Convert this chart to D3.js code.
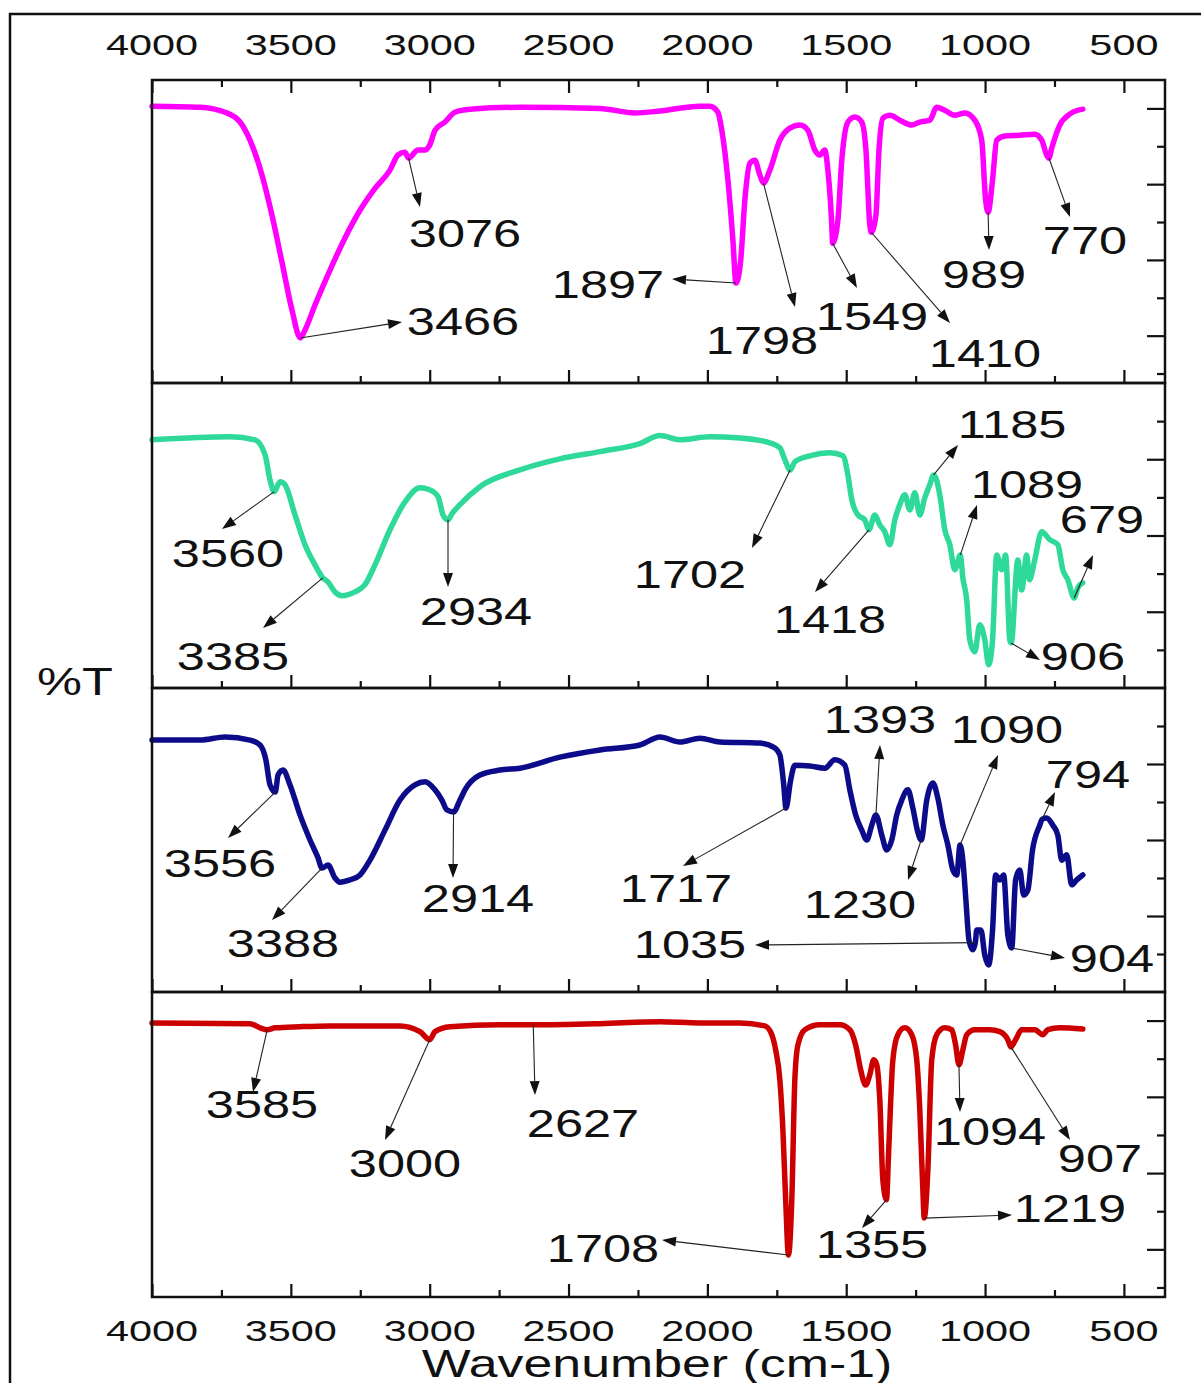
<!DOCTYPE html>
<html>
<head>
<meta charset="utf-8">
<script src="https://cdn.jsdelivr.net/npm/d3@7"></script>
<style>
  body { margin: 0; background: #fff; }
  svg { display: block; }
  text { font-family: "Liberation Sans", Arial, sans-serif; fill: #111; }
</style>
</head>
<body>
<svg id="chart" width="1201" height="1383"></svg>
<script>
// ---- Wavenumber axis ----
const wavenumberTicks = [4000, 3500, 3000, 2500, 2000, 1500, 1000, 500];
const wavenumberMinorTicks = [3750, 3250, 2750, 2250, 1750, 1250, 750];

// ---- FTIR spectra: [wavenumber (cm-1), %T] ----
const spectrumMagenta = [
  [4000,70.6],[3827,70.3],[3737,69.0],[3683,66.4],[3647,61.6],[3604,52.4],[3568,41.8],[3532,29.4],
  [3496,16.8],[3466,9.4],[3449,11.5],[3413,18.1],[3359,27.3],[3305,35.8],[3251,43.1],[3197,48.9],
  [3143,53.7],[3114,57.7],[3089,58.4],[3076,56.9],[3042,59.0],[3017,59.0],[3000,60.3],[2981,64.2],
  [2945,66.4],[2909,69.0],[2855,69.8],[2675,70.3],[2387,70.0],[2261,68.8],[2171,69.3],[2027,70.6],
  [1991,70.6],[1962,69.0],[1948,64.2],[1926,51.1],[1908,35.2],[1897,23.9],[1880,29.9],[1865,45.8],
  [1847,55.5],[1829,56.3],[1811,52.4],[1798,50.3],[1775,53.7],[1739,61.6],[1703,64.8],[1667,65.6],
  [1638,64.2],[1613,59.0],[1595,57.7],[1577,59.0],[1566,53.7],[1552,39.2],[1549,34.4],[1530,40.5],
  [1516,56.3],[1494,66.4],[1469,67.7],[1444,66.4],[1429,59.0],[1415,39.2],[1410,37.3],[1393,41.8],
  [1382,59.0],[1368,67.4],[1343,68.2],[1307,66.9],[1264,65.6],[1235,66.4],[1199,66.9],[1174,70.3],
  [1145,69.5],[1109,68.2],[1073,68.8],[1037,66.9],[1012,61.6],[998,45.8],[989,42.6],[973,51.1],
  [958,61.6],[929,62.7],[875,62.9],[821,63.2],[796,61.6],[778,57.7],[770,56.9],[760,59.5],
  [731,65.6],[695,68.5],[648,69.8]
];
const spectrumGreen = [
  [4000,55.1],[3719,55.9],[3629,55.1],[3593,51.2],[3575,44.6],[3560,41.5],[3539,44.1],[3521,43.3],
  [3485,35.4],[3449,27.6],[3413,22.3],[3385,18.9],[3366,17.8],[3341,15.2],[3316,14.2],[3269,15.2],
  [3233,17.1],[3197,22.3],[3143,31.5],[3089,38.8],[3035,42.5],[3000,42.0],[2970,40.2],[2952,35.4],
  [2934,34.1],[2920,35.7],[2891,38.1],[2819,42.8],[2675,47.2],[2531,50.1],[2387,52.0],[2243,54.1],
  [2171,56.2],[2099,55.1],[1991,55.9],[1883,55.6],[1775,54.3],[1739,53.0],[1721,49.9],[1702,47.2],
  [1685,49.3],[1631,50.9],[1559,51.7],[1512,50.9],[1494,45.9],[1480,39.4],[1458,35.4],[1433,34.1],
  [1418,31.5],[1397,35.4],[1379,32.8],[1361,31.0],[1343,27.6],[1325,34.1],[1307,38.1],[1289,40.7],
  [1271,36.7],[1253,41.2],[1235,35.4],[1217,39.9],[1199,43.3],[1185,45.9],[1163,40.7],[1145,31.5],
  [1127,27.6],[1109,21.0],[1089,24.9],[1080,18.9],[1066,13.1],[1055,2.6],[1037,-0.5],[1019,6.6],
  [1001,2.6],[987,-3.9],[973,2.6],[958,24.9],[940,21.0],[926,24.9],[911,2.6],[906,1.8],
  [882,23.6],[868,15.7],[850,24.9],[840,18.4],[821,23.6],[796,31.0],[767,28.9],[738,27.6],
  [720,21.0],[702,18.4],[679,13.6],[666,16.3],[648,17.6]
];
const spectrumBlue = [
  [4000,56.3],[3827,56.3],[3737,57.1],[3647,56.3],[3611,55.0],[3590,51.1],[3575,44.5],[3556,42.6],
  [3546,47.1],[3528,48.4],[3503,44.5],[3467,36.6],[3431,30.0],[3402,25.3],[3388,22.6],[3366,23.4],
  [3341,20.0],[3323,18.9],[3287,19.5],[3251,20.8],[3215,24.7],[3161,32.6],[3107,40.5],[3053,44.5],
  [3017,45.3],[2981,43.2],[2956,40.5],[2938,37.9],[2914,37.4],[2891,40.5],[2873,43.2],[2819,47.1],
  [2747,48.4],[2675,48.9],[2531,51.8],[2387,53.7],[2243,55.0],[2171,57.1],[2099,55.8],[2027,56.8],
  [1955,55.8],[1811,55.5],[1757,54.2],[1739,52.4],[1725,44.5],[1717,38.4],[1700,45.8],[1685,49.7],
  [1631,49.5],[1577,48.9],[1541,51.1],[1505,49.7],[1487,43.2],[1466,36.6],[1444,32.6],[1426,30.0],
  [1408,33.9],[1393,36.6],[1372,31.3],[1354,27.4],[1336,30.0],[1318,36.6],[1300,40.5],[1278,43.2],
  [1260,38.4],[1242,32.0],[1230,30.0],[1210,40.5],[1188,45.0],[1170,41.0],[1152,33.9],[1134,28.7],
  [1116,22.1],[1102,20.8],[1090,28.7],[1080,24.7],[1069,14.2],[1058,3.7],[1044,1.1],[1035,3.0],
  [1030,6.3],[1015,6.3],[1001,-0.3],[987,-2.9],[973,6.3],[962,20.8],[947,19.5],[933,20.8],
  [918,5.0],[904,1.6],[890,19.5],[875,22.1],[861,15.5],[846,16.8],[829,27.4],[803,33.9],
  [794,35.5],[778,35.8],[756,33.9],[738,31.3],[724,24.7],[706,26.1],[688,18.2],[670,19.5],[648,20.8]
];
const spectrumRed = [
  [4000,69.4],[3647,69.2],[3611,68.1],[3585,67.6],[3557,68.1],[3467,68.4],[3359,68.6],[3107,68.6],
  [3035,67.1],[3000,65.0],[2981,67.1],[2927,68.4],[2747,68.9],[2627,68.9],[2387,69.2],[2171,69.7],
  [2027,69.4],[1883,69.4],[1793,68.6],[1768,66.3],[1754,62.3],[1739,54.5],[1728,41.3],[1718,23.0],
  [1708,8.5],[1696,23.0],[1685,54.5],[1674,63.6],[1649,67.6],[1595,68.9],[1523,68.9],[1487,67.6],
  [1466,63.6],[1448,57.1],[1430,53.1],[1415,55.8],[1401,59.7],[1390,58.4],[1379,49.2],[1368,28.2],
  [1355,23.0],[1347,36.1],[1332,59.7],[1314,66.3],[1289,68.1],[1264,66.3],[1246,59.7],[1235,46.6],
  [1224,25.6],[1219,18.2],[1206,30.8],[1192,59.7],[1174,66.3],[1145,68.1],[1120,67.6],[1106,63.6],
  [1094,58.4],[1080,62.3],[1066,66.3],[1037,67.6],[983,67.6],[947,67.1],[918,65.0],[907,63.1],
  [890,65.0],[868,67.6],[821,67.6],[792,66.3],[774,67.6],[731,68.1],[648,67.8]
];

// ---- Peak labels per spectrum ----
const peaksMagenta = [3076, 3466, 1897, 1798, 1549, 1410, 989, 770];
const peaksGreen = [3560, 3385, 2934, 1702, 1418, 1185, 1089, 679, 906];
const peaksBlue = [3556, 3388, 2914, 1717, 1393, 1090, 794, 1230, 1035, 904];
const peaksRed = [3585, 3000, 2627, 1708, 1355, 1219, 1094, 907];

// ---- Layout ----
const W = 1201, H = 1383;
const plotLeft = 152, plotRight = 1165;
const panelEdges = [80, 383, 688, 992, 1297];
const panels = [
  { data: spectrumMagenta, peaks: peaksMagenta, color: "#ff00ff", domain: [-2.5, 77.5], rightTicks: d3.range(0, 80, 10) },
  { data: spectrumGreen,   peaks: peaksGreen,   color: "#2fd99a", domain: [-10, 70],    rightTicks: d3.range(0, 70, 10) },
  { data: spectrumBlue,    peaks: peaksBlue,    color: "#0c0c8a", domain: [-10, 70],    rightTicks: d3.range(0, 70, 10) },
  { data: spectrumRed,     peaks: peaksRed,     color: "#cc0000", domain: [-2.5, 77.5], rightTicks: d3.range(0, 80, 10) }
];

// label anchor [centre x, baseline y] and arrow tip [x, y] for each peak label
const labelPlacement = [
  { 3076: [465, 247, 420, 207], 3466: [463, 335, 402, 322], 1897: [608, 298, 672, 279], 1798: [762, 354, 795, 307],
    1549: [872, 330, 857, 288], 1410: [985, 367, 950, 323], 989: [984, 288, 989, 250], 770: [1085, 254, 1070, 217] },
  { 3560: [228, 567, 222, 529], 3385: [233, 670, 263, 628], 2934: [476, 625, 448, 587], 1702: [690, 588, 752, 548],
    1418: [830, 633, 815, 592], 1185: [1012, 438, 958, 445], 1089: [1027, 498, 977, 505], 679: [1102, 533, 1093, 555],
    906: [1083, 670, 1040, 660] },
  { 3556: [220, 877, 228, 838], 3388: [283, 957, 272, 920], 2914: [478, 912, 453, 878], 1717: [676, 902, 683, 866],
    1393: [880, 733, 880, 745], 1090: [1007, 743, 998, 755], 794: [1088, 788, 1055, 792], 1230: [860, 918, 908, 880],
    1035: [690, 958, 755, 945], 904: [1112, 972, 1065, 958] },
  { 3585: [262, 1118, 253, 1092], 3000: [405, 1177, 385, 1140], 2627: [583, 1137, 535, 1095], 1708: [603, 1262, 662, 1240],
    1355: [872, 1258, 862, 1228], 1219: [1070, 1222, 1012, 1215], 1094: [990, 1145, 960, 1112], 907: [1100, 1172, 1070, 1140] }
];

const svg = d3.select("#chart");
const x = d3.scaleLinear().domain([4000, 352]).range([plotLeft, plotRight]);

// text drawn with the wide horizontal stretch of the exported figure
function wideText(g, str, cx, baseline, size, sx) {
  return g.append("text")
    .attr("transform", `translate(${cx},${baseline}) scale(${sx},1)`)
    .attr("text-anchor", "middle")
    .attr("font-size", size)
    .text(str);
}

// outer figure frame (top and left edges)
svg.append("path")
  .attr("d", `M10,${H + 5} L10,14 L${W + 5},14`)
  .attr("fill", "none").attr("stroke", "#111").attr("stroke-width", 2.5);

function valueAt(series, wn) {
  for (let i = 0; i < series.length - 1; i++) {
    const [w0, v0] = series[i], [w1, v1] = series[i + 1];
    if (wn <= w0 && wn >= w1) {
      const t = (w0 - wn) / (w0 - w1);
      return v0 + t * (v1 - v0);
    }
  }
  return series[series.length - 1][1];
}

panels.forEach((p, i) => {
  const top = panelEdges[i], bottom = panelEdges[i + 1];
  const y = d3.scaleLinear().domain(p.domain).range([bottom, top]);
  const g = svg.append("g");

  // spectrum line
  const line = d3.line()
    .x(d => x(d[0])).y(d => y(d[1]))
    .curve(d3.curveMonotoneX);
  g.append("path")
    .datum(p.data)
    .attr("d", line)
    .attr("fill", "none")
    .attr("stroke", p.color)
    .attr("stroke-width", 5.5)
    .attr("stroke-linejoin", "round")
    .attr("stroke-linecap", "round");

  // right-hand %T ticks, alternating long/short
  const rightAxis = d3.axisRight(y).tickValues(p.rightTicks).tickFormat("").tickSizeOuter(0)
    .tickSize(0);
  const ra = g.append("g").attr("transform", `translate(${plotRight},0)`).call(rightAxis);
  ra.select(".domain").remove();
  ra.selectAll(".tick line")
    .attr("x1", 0)
    .attr("x2", d => ((d / 10) % 2 === 1 ? -18 : -8))
    .attr("stroke", "#111").attr("stroke-width", 2.2);

  // bottom ticks of each panel, pointing up
  const bAxis = d3.axisBottom(x).tickValues(wavenumberTicks).tickFormat("").tickSizeInner(-13).tickSizeOuter(0);
  const ba = g.append("g").attr("transform", `translate(0,${bottom})`).call(bAxis);
  ba.select(".domain").remove();
  ba.selectAll(".tick line").attr("stroke", "#111").attr("stroke-width", 2.2);
  const bMinor = d3.axisBottom(x).tickValues(wavenumberMinorTicks).tickFormat("").tickSizeInner(-7).tickSizeOuter(0);
  const bm = g.append("g").attr("transform", `translate(0,${bottom})`).call(bMinor);
  bm.select(".domain").remove();
  bm.selectAll(".tick line").attr("stroke", "#111").attr("stroke-width", 2.2);

  // panel frame
  g.append("rect")
    .attr("x", plotLeft).attr("y", top)
    .attr("width", plotRight - plotLeft).attr("height", bottom - top)
    .attr("fill", "none").attr("stroke", "#111").attr("stroke-width", 2.5);

  // peak labels with arrows
  p.peaks.forEach(wn => {
    const [lx, ly, tx, ty] = labelPlacement[i][wn];
    const sx0 = x(wn), sy0 = y(valueAt(p.data, wn));
    const ang = Math.atan2(ty - sy0, tx - sx0);
    const headLen = 14, headHalf = 5;
    const bx = tx - headLen * Math.cos(ang), by = ty - headLen * Math.sin(ang);
    g.append("line")
      .attr("x1", sx0).attr("y1", sy0).attr("x2", bx).attr("y2", by)
      .attr("stroke", "#222").attr("stroke-width", 1.1);
    const nx = -Math.sin(ang) * headHalf, ny = Math.cos(ang) * headHalf;
    g.append("path")
      .attr("d", `M${tx},${ty} L${bx + nx},${by + ny} L${bx - nx},${by - ny} Z`)
      .attr("fill", "#111");
    wideText(g, String(wn), lx, ly, 38, 1.33);
  });
});

// top axis of the first panel (ticks pointing down) with labels
const topAxis = d3.axisTop(x).tickValues(wavenumberTicks).tickFormat("").tickSizeInner(-13).tickSizeOuter(0);
const ta = svg.append("g").attr("transform", `translate(0,${panelEdges[0]})`).call(topAxis);
ta.select(".domain").remove();
ta.selectAll(".tick line").attr("stroke", "#111").attr("stroke-width", 2.2);
const topMinor = d3.axisTop(x).tickValues(wavenumberMinorTicks).tickFormat("").tickSizeInner(-7).tickSizeOuter(0);
const tm = svg.append("g").attr("transform", `translate(0,${panelEdges[0]})`).call(topMinor);
tm.select(".domain").remove();
tm.selectAll(".tick line").attr("stroke", "#111").attr("stroke-width", 2.2);

const labelsLayer = svg.append("g");
wavenumberTicks.forEach(t => {
  wideText(labelsLayer, String(t), x(t), 55, 30, 1.38);
  wideText(labelsLayer, String(t), x(t), 1341, 30, 1.38);
});

// axis titles
wideText(labelsLayer, "Wavenumber (cm-1)", 657, 1377, 39, 1.33);
wideText(labelsLayer, "%T", 75, 695, 38, 1.33);
</script>
</body>
</html>
